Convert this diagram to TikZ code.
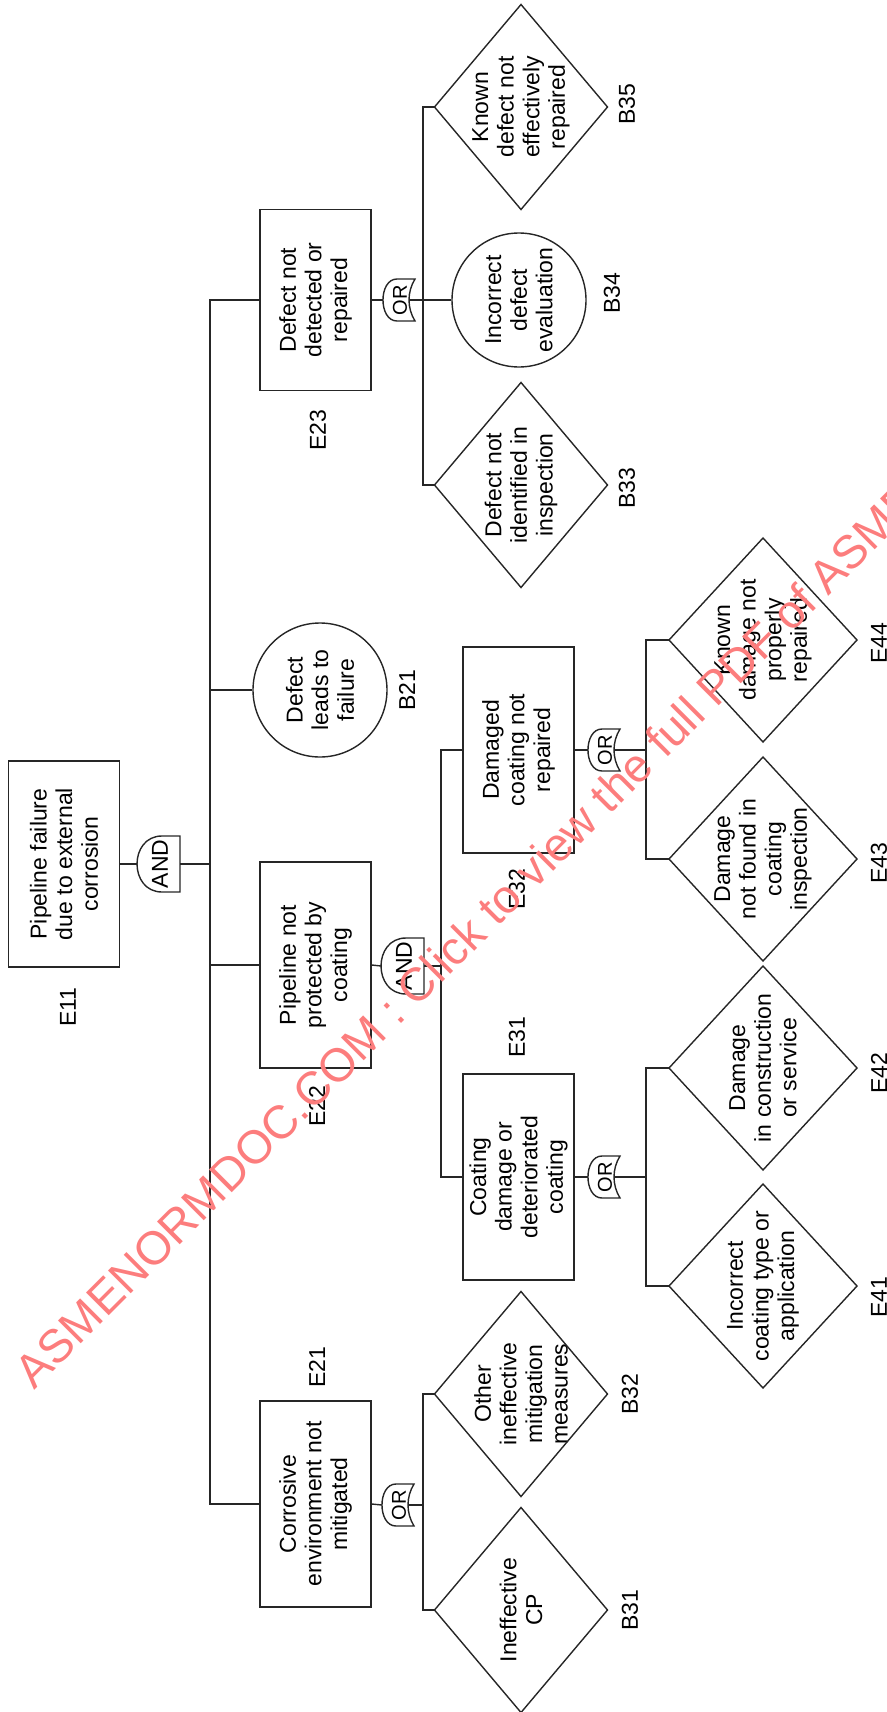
\documentclass[tikz,border=0pt]{standalone}
\usepackage{fontspec}
\setmainfont{Liberation Sans}
\usetikzlibrary{positioning}
\definecolor{wmred}{RGB}{252,125,125}

\begin{document}
\begin{tikzpicture}[x=0.5pt,y=-0.5pt,line width=0.7pt,draw=black!85]

      \useasboundingbox (0,0) rectangle (887,1712);

      \tikzstyle{mytext}=[rotate=90, align=center, inner sep=0pt, font=\fontsize{11.5}{12.8}\selectfont];
      \tikzstyle{mybox}=[mytext, draw=black!85, minimum width=103pt, minimum height=55.5pt];
      \tikzstyle{mycircle}=[mytext, draw=black!85, circle, minimum size=67pt];

      \node[mybox] (e11) at (64,864) {Pipeline failure\\due to external\\corrosion};
      \node[mytext] (e11l) at (68,1007) {E11};

      \node[mybox, minimum width=90.5pt] (e23) at (315.5,300) {Defect not\\detected or\\repaired};
      \node[mytext] (e23l) at (318,430) {E23};
      \node[mycircle] (b21) at (320,690) {Defect\\leads to\\failure};
      \node[mytext] (b21l) at (407,690) {B21};
      \node[mybox] (e22) at (315.5,965) {Pipeline not\\protected by\\coating};
      \node[mytext] (e22l) at (317,1106) {E22};
      \node[mybox] (e21) at (315.5,1504) {Corrosive\\environment not\\mitigated};
      \node[mytext] (e21l) at (317,1367) {E21};

      \node[mytext] (b35) at (521,107) {Known\\defect not\\effectively\\repaired};
      \node[mytext] (b35l) at (627,104) {B35};
      \node[mycircle] (b34) at (519,300) {Incorrect\\defect\\evaluation};
      \node[mytext] (b34l) at (612,293) {B34};
      \node[mytext] (b33) at (521,485) {Defect not\\identified in\\inspection};
      \node[mytext] (b33l) at (627,488) {B33};
      \node[mybox] (e32) at (518.5,750) {Damaged\\coating not\\repaired};
      \node[mytext] (e32l) at (517,889) {E32};
      \node[mybox] (e31) at (518.5,1177) {Coating\\damage or\\deteriorated\\coating};
      \node[mytext] (e31l) at (517,1037) {E31};
      \node[mytext] (b32) at (521,1394) {Other\\ineffective\\mitigation\\measures};
      \node[mytext] (b32l) at (630,1394) {B32};
      \node[mytext] (b31) at (521,1610) {Ineffective\\CP};
      \node[mytext] (b31l) at (630,1610) {B31};

      \node[mytext] (e44) at (763,640) {Known\\damage not\\properly\\repaired};
      \node[mytext] (e44l) at (879,643) {E44};
      \node[mytext] (e43) at (763,859) {Damage\\not found in\\coating\\inspection};
      \node[mytext] (e43l) at (879,863) {E43};
      \node[mytext] (e42) at (763,1068) {Damage\\in construction\\or service};
      \node[mytext] (e42l) at (879,1073) {E42};
      \node[mytext] (e41) at (763,1286) {Incorrect\\coating type or\\application};
      \node[mytext] (e41l) at (879,1297) {E41};

      \foreach \dn in {b31,b32,b33,b35}{
        \draw (\dn) ++(-86.5,0) coordinate (\dn w) -- ++(86.5,-102.5) -- ++(86.5,102.5) -- ++(-86.5,102.5) -- cycle;
      }
      \foreach \dn in {e41,e42,e43,e44}{
        \draw (\dn) ++(-94,0) coordinate (\dn w) -- ++(94,-102) -- ++(94,102) -- ++(-94,102) -- cycle;
      }

      \foreach \gx/\gy/\gn in {137/864/g11, 381/966/g22}{
        \draw (\gx+43,\gy-28) -- (\gx+25,\gy-28) .. controls (\gx-8.3,\gy-28) and (\gx-8.3,\gy+28) .. (\gx+25,\gy+28) -- (\gx+43,\gy+28) -- cycle;
        \node[mytext] (\gn) at (\gx+23,\gy) {AND};
        \coordinate (\gn-in) at (\gx,\gy);
        \coordinate (\gn-out) at (\gx+43,\gy);
      }
      \foreach \gx/\gy/\gn in {383/300/g23, 382/1505/g21, 588/750/g32, 588/1177/g31}{
        \draw (\gx+32,\gy-21) -- (\gx+14,\gy-21) .. controls (\gx-4.7,\gy-21) and (\gx-4.7,\gy+21) .. (\gx+14,\gy+21) -- (\gx+32,\gy+21) .. controls (\gx+24,\gy+8) and (\gx+24,\gy-8) .. (\gx+32,\gy-21) -- cycle;
        \node[mytext, font=\fontsize{10}{12}\selectfont] (\gn) at (\gx+17,\gy) {OR};
        \coordinate (\gn-in) at (\gx,\gy);
        \coordinate (\gn-out) at (\gx+26,\gy);
      }

      \coordinate (j1) at (210,864);
      \coordinate (j23) at (423,300);
      \coordinate (j22) at (441,966);
      \coordinate (j21) at (423,1505);
      \coordinate (j32) at (646,750);
      \coordinate (j31) at (646,1177);

      \draw (e11.south) -- (g11-in);
      \draw (g11-out) -- (j1);
      \draw (e23.north) -| (j1);
      \draw (e21.north) -| (j1);
      \draw (b21.north) -- (b21.north -| j1);
      \draw (e22.north) -- (e22.north -| j1);

      \draw (e23.south) -- (g23-in);
      \draw (g23-out) -- (j23);
      \draw (b35w) -| (j23);
      \draw (b33w) -| (j23);
      \draw (b34.north) -- (b34.north -| j23);

      \draw (e22.south) -- (g22-in);
      \draw (g22-out) -- (j22);
      \draw (e32.north) -| (j22);
      \draw (e31.north) -| (j22);

      \draw (e21.south) -- (g21-in);
      \draw (g21-out) -- (j21);
      \draw (b32w) -| (j21);
      \draw (b31w) -| (j21);

      \draw (e32.south) -- (g32-in);
      \draw (g32-out) -- (j32);
      \draw (e44w) -| (j32);
      \draw (e43w) -| (j32);

      \draw (e31.south) -- (g31-in);
      \draw (g31-out) -- (j31);
      \draw (e42w) -| (j31);
      \draw (e41w) -| (j31);

      \node[rotate=45, anchor=base west, inner sep=0pt, text=wmred, font=\fontsize{23.4}{28}\selectfont] (wm) at (34,1391) {ASMENORMDOC.COM : Click to view the full PDF of ASME};
    \end{tikzpicture}
\end{document}
